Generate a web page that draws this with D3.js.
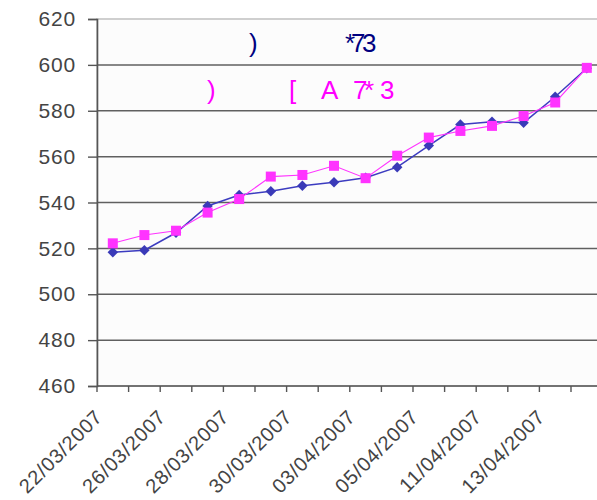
<!DOCTYPE html>
<html>
<head>
<meta charset="utf-8">
<script src="https://cdn.jsdelivr.net/npm/d3@7"></script>
<style>
  html, body { margin: 0; padding: 0; background: #ffffff; }
  svg { display: block; }
  text { font-family: "Liberation Sans", Arial, sans-serif; }
</style>
</head>
<body>
<svg id="chart" width="597" height="500"></svg>
<script>
// Trading days (dd/mm/yyyy)
const dates = [
  "22/03/2007", "23/03/2007", "26/03/2007", "27/03/2007",
  "28/03/2007", "29/03/2007", "30/03/2007", "02/04/2007",
  "03/04/2007", "04/04/2007", "05/04/2007", "10/04/2007",
  "11/04/2007", "12/04/2007", "13/04/2007", "16/04/2007"
];
const seriesBlue = [518.3, 519.2, 526.8, 538.5, 543.3, 544.9, 547.3, 548.8,
                    550.8, 555.4, 564.8, 574.0, 575.2, 574.8, 586.1, 598.5];
const seriesPink = [522.2, 525.8, 527.7, 535.6, 541.5, 551.3, 552.0, 556.0,
                    550.6, 560.4, 568.3, 571.2, 573.4, 577.7, 583.6, 598.7];
const yTicks = [460, 480, 500, 520, 540, 560, 580, 600, 620];
// every second date is labelled
const xLabelDates = dates.filter((d, i) => i % 2 === 0);

// Legend glyphs as drawn (font symbol mapping), per line
const legendNavy = [[")", 249], ["*", 345], ["7", 351], ["3", 362]];
const legendMagenta = [[")", 207], ["[", 289], ["A", 321], ["7", 353], ["*", 364], ["3", 380]];

(function draw() {
  const svg = d3.select("#chart");
  const plotLeft = 97, plotTop = 19, plotBottom = 386;
  const bandW = 31.6;
  const plotRight = plotLeft + bandW * dates.length;

  const x = d3.scaleBand().domain(dates).range([plotLeft, plotRight]).padding(0);
  const y = d3.scaleLinear().domain([460, 620]).range([plotBottom, plotTop]);

  // plot area
  svg.append("rect")
    .attr("x", plotLeft).attr("y", plotTop)
    .attr("width", plotRight - plotLeft).attr("height", plotBottom - plotTop)
    .attr("fill", "#fcfcfc")
    .attr("stroke", "#c0c0c0").attr("stroke-width", 1.5);

  // horizontal gridlines
  svg.append("g").selectAll("line")
    .data(yTicks.filter(v => v > 460 && v < 620))
    .join("line")
    .attr("x1", plotLeft).attr("x2", plotRight)
    .attr("y1", d => y(d)).attr("y2", d => y(d))
    .attr("stroke", "#606060").attr("stroke-width", 1.5);

  // y axis
  const yAxis = d3.axisLeft(y).tickValues(yTicks).tickSize(9).tickPadding(12);
  const gy = svg.append("g").attr("transform", `translate(${plotLeft},0)`).call(yAxis);
  gy.select(".domain").attr("stroke", "#555").attr("stroke-width", 1.6);
  gy.selectAll(".tick line").attr("stroke", "#555").attr("stroke-width", 1.4);
  gy.selectAll(".tick text")
    .attr("fill", "#444").attr("font-size", 21).attr("letter-spacing", 0.8)
    .attr("font-family", "'Liberation Sans', Arial, sans-serif");

  // x axis: ticks at band boundaries
  const boundaries = d3.range(dates.length + 1).map(i => plotLeft + i * bandW);
  const gx = svg.append("g");
  gx.append("line")
    .attr("x1", plotLeft).attr("x2", plotRight)
    .attr("y1", plotBottom).attr("y2", plotBottom)
    .attr("stroke", "#555").attr("stroke-width", 1.6);
  gx.selectAll("line.tk").data(boundaries).join("line")
    .attr("class", "tk")
    .attr("x1", d => d).attr("x2", d => d)
    .attr("y1", plotBottom).attr("y2", plotBottom + 6)
    .attr("stroke", "#555").attr("stroke-width", 1.4);
  gx.selectAll("text").data(xLabelDates).join("text")
    .attr("transform", d => `translate(${x(d) + x.bandwidth() / 2 - 9},${plotBottom + 32}) rotate(-45)`)
    .attr("text-anchor", "end")
    .attr("fill", "#444").attr("font-size", 20).attr("letter-spacing", 0.8)
    .text(d => d);

  // series
  const line = d3.line()
    .x((d, i) => x(dates[i]) + x.bandwidth() / 2)
    .y(d => y(d));

  svg.append("path").datum(seriesBlue)
    .attr("d", line).attr("fill", "none")
    .attr("stroke", "#3c3cc0").attr("stroke-width", 1.5);
  svg.append("g").selectAll("path").data(seriesBlue).join("path")
    .attr("d", d3.symbol(d3.symbolDiamond2, 70))
    .attr("transform", (d, i) => `translate(${x(dates[i]) + x.bandwidth() / 2},${y(d)})`)
    .attr("fill", "#3a3ab8");

  svg.append("path").datum(seriesPink)
    .attr("d", line).attr("fill", "none")
    .attr("stroke", "#ff33ff").attr("stroke-width", 1.1);
  svg.append("g").selectAll("rect").data(seriesPink).join("rect")
    .attr("x", (d, i) => x(dates[i]) + x.bandwidth() / 2 - 5)
    .attr("y", d => y(d) - 5)
    .attr("width", 10).attr("height", 10)
    .attr("fill", "#ff33ff");

  // legend: one text per line, glyphs placed with tspans
  const lg = svg.append("g").attr("font-size", 26);
  lg.append("text")
    .attr("y", 52).attr("fill", "#000080")
    .selectAll("tspan").data(legendNavy).join("tspan")
    .attr("x", d => d[1])
    .text(d => d[0]);
  lg.append("text")
    .attr("y", 99).attr("fill", "#ff00ff")
    .selectAll("tspan").data(legendMagenta).join("tspan")
    .attr("x", d => d[1])
    .text(d => d[0]);
})();
</script>
</body>
</html>
